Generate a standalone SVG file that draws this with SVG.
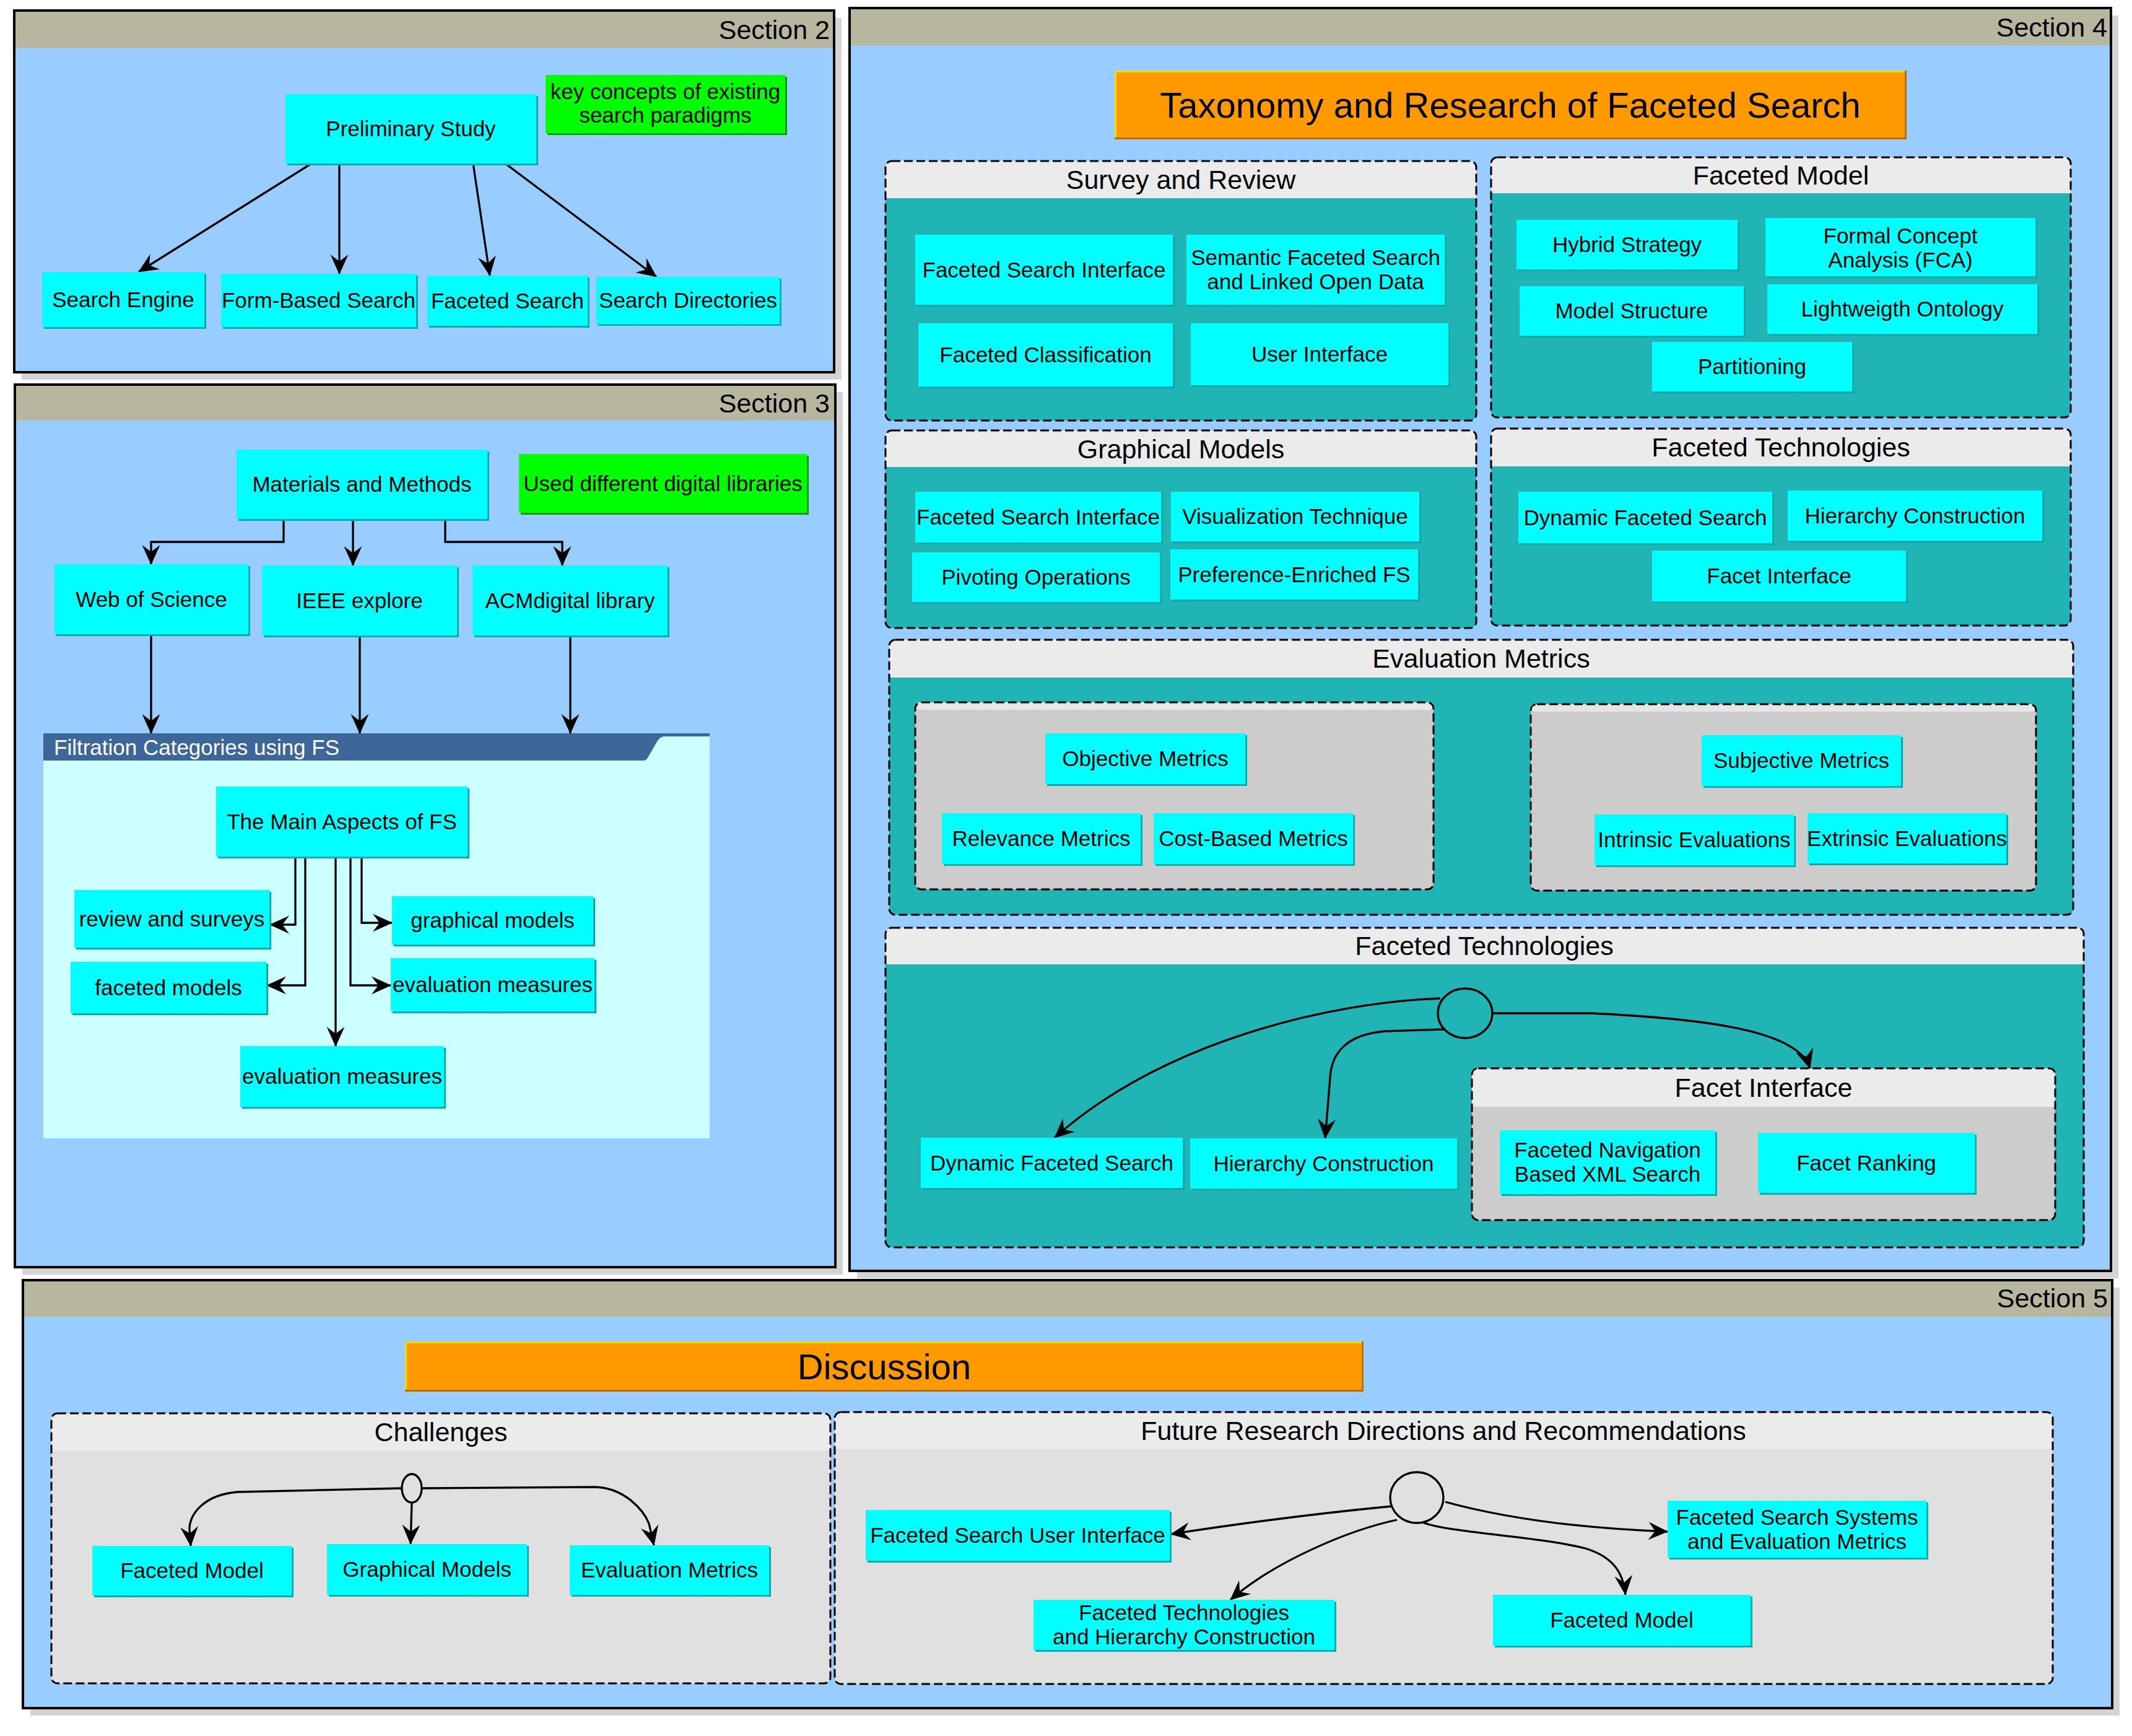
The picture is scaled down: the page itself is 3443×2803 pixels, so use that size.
<svg xmlns="http://www.w3.org/2000/svg" width="3443" height="2803" viewBox="0 0 3443 2803">
<defs>
<style>
.bg{fill:#FFFFFF}
.shd{fill:#D3D3D3}
.sec{fill:#99CCFF;stroke:#000;stroke-width:4}
.sech{fill:#B7B79F}
.st{font-family:"Liberation Sans",Arial,sans-serif;font-size:43px;text-anchor:end;fill:#000}
.gt{font-family:"Liberation Sans",Arial,sans-serif;font-size:43px;text-anchor:middle;fill:#000}
.t{font-family:"Liberation Sans",Arial,sans-serif;font-size:35px;text-anchor:middle;fill:#000}
.big{font-family:"Liberation Sans",Arial,sans-serif;font-size:58px;text-anchor:middle;fill:#000}
.ft{font-family:"Liberation Sans",Arial,sans-serif;font-size:35px;fill:#FFFFFF}
.nf{fill:#00FFFF}
.ns{fill:#00AAAA}
.gf{fill:#00FF00}
.gs{fill:#009900}
.teal{fill:#20B4B4}
.gh{fill:#EBEBEB}
.lg{fill:#CCCCCC}
.lg2{fill:#E0E0E0}
.dash{fill:none;stroke:#000;stroke-width:3;stroke-dasharray:14 6}
.c{fill:none;stroke:#000;stroke-width:3.3;marker-end:url(#ah)}
.el{stroke:#000;stroke-width:3.3}
</style>
<marker id="ah" markerUnits="userSpaceOnUse" markerWidth="34" markerHeight="30" viewBox="0 0 34 30" refX="31" refY="15" orient="auto">
<path d="M0,0.5 L32,15 L0,29.5 L11,15 Z" fill="#000"/>
</marker>
</defs>
<rect class="bg" x="0" y="0" width="3443" height="2803"/>

<!-- Sections -->
<g id="section2">
<rect class="shd" x="35" y="29" width="1324" height="584"/>
<rect class="sec" x="23" y="17" width="1324" height="584"/>
<rect class="sech" x="25" y="19" width="1320" height="58"/>
<text class="st" x="1340" y="63">Section 2</text>
</g>
<g id="section3">
<rect class="shd" x="36" y="633" width="1325" height="1425"/>
<rect class="sec" x="24" y="621" width="1325" height="1425"/>
<rect class="sech" x="26" y="623" width="1321" height="56"/>
<text class="st" x="1340" y="666">Section 3</text>
</g>
<g id="section4">
<rect class="shd" x="1384" y="25" width="2037" height="2039"/>
<rect class="sec" x="1372" y="13" width="2037" height="2039"/>
<rect class="sech" x="1374" y="15" width="2033" height="58"/>
<text class="st" x="3403" y="59">Section 4</text>
</g>
<g id="section5">
<rect class="shd" x="49" y="2079" width="3374" height="691"/>
<rect class="sec" x="37" y="2067" width="3374" height="691"/>
<rect class="sech" x="39" y="2069" width="3370" height="57"/>
<text class="st" x="3404" y="2111">Section 5</text>
</g>

<!-- Containers -->
<g id="filtration">
<rect x="70" y="1184" width="1076" height="654" fill="#CCFFFF"/>
<path d="M70,1184 H1146 V1189 H1074 C1066,1189 1063,1194 1059,1201 L1048,1220 C1045,1226 1043,1228 1038,1228 H70 Z" fill="#3D6699"/>
<text class="ft" x="87" y="1219">Filtration Categories using FS</text>
</g>

<g id="grp-survey">
<rect x="1430" y="260" width="954" height="419" rx="10" class="teal"/>
<rect x="1430" y="260" width="954" height="60" rx="10" class="gh"/>
<rect x="1430" y="308" width="954" height="12" class="gh"/>
<rect x="1430" y="260" width="954" height="419" rx="10" class="dash"/>
<text class="gt" x="1907" y="305">Survey and Review</text>
</g>
<g id="grp-facetedmodel">
<rect x="2408" y="254" width="936" height="420" rx="10" class="teal"/>
<rect x="2408" y="254" width="936" height="58" rx="10" class="gh"/>
<rect x="2408" y="300" width="936" height="12" class="gh"/>
<rect x="2408" y="254" width="936" height="420" rx="10" class="dash"/>
<text class="gt" x="2876" y="298">Faceted Model</text>
</g>
<g id="grp-graphical">
<rect x="1430" y="695" width="954" height="319" rx="10" class="teal"/>
<rect x="1430" y="695" width="954" height="59" rx="10" class="gh"/>
<rect x="1430" y="742" width="954" height="12" class="gh"/>
<rect x="1430" y="695" width="954" height="319" rx="10" class="dash"/>
<text class="gt" x="1907" y="740">Graphical Models</text>
</g>
<g id="grp-factech1">
<rect x="2408" y="692" width="936" height="318" rx="10" class="teal"/>
<rect x="2408" y="692" width="936" height="61" rx="10" class="gh"/>
<rect x="2408" y="741" width="936" height="12" class="gh"/>
<rect x="2408" y="692" width="936" height="318" rx="10" class="dash"/>
<text class="gt" x="2876" y="737">Faceted Technologies</text>
</g>
<g id="grp-eval">
<rect x="1436" y="1033" width="1912" height="444" rx="10" class="teal"/>
<rect x="1436" y="1033" width="1912" height="61" rx="10" class="gh"/>
<rect x="1436" y="1082" width="1912" height="12" class="gh"/>
<rect x="1436" y="1033" width="1912" height="444" rx="10" class="dash"/>
<text class="gt" x="2392" y="1078">Evaluation Metrics</text>
</g>
<g id="grp-eval-left">
<rect x="1478" y="1134" width="837" height="302" rx="10" class="lg"/>
<rect x="1478" y="1134" width="837" height="12" rx="6" fill="#E6E6E6"/>
<rect x="1478" y="1134" width="837" height="302" rx="10" class="dash"/>
</g>
<g id="grp-eval-right">
<rect x="2472" y="1137" width="816" height="301" rx="10" class="lg"/>
<rect x="2472" y="1137" width="816" height="12" rx="6" fill="#E6E6E6"/>
<rect x="2472" y="1137" width="816" height="301" rx="10" class="dash"/>
</g>
<g id="grp-factech2">
<rect x="1430" y="1498" width="1935" height="516" rx="10" class="teal"/>
<rect x="1430" y="1498" width="1935" height="59" rx="10" class="gh"/>
<rect x="1430" y="1545" width="1935" height="12" class="gh"/>
<rect x="1430" y="1498" width="1935" height="516" rx="10" class="dash"/>
<text class="gt" x="2397" y="1542">Faceted Technologies</text>
</g>
<g id="grp-facetinterface">
<rect x="2377" y="1725" width="942" height="245" rx="10" class="lg"/>
<rect x="2377" y="1725" width="942" height="62" rx="10" class="gh"/>
<rect x="2377" y="1775" width="942" height="12" class="gh"/>
<rect x="2377" y="1725" width="942" height="245" rx="10" class="dash"/>
<text class="gt" x="2848" y="1771">Facet Interface</text>
</g>
<g id="grp-challenges">
<rect x="83" y="2282" width="1258" height="436" rx="10" class="lg2"/>
<rect x="83" y="2282" width="1258" height="60" rx="10" class="gh"/>
<rect x="83" y="2330" width="1258" height="12" class="gh"/>
<rect x="83" y="2282" width="1258" height="436" rx="10" class="dash"/>
<text class="gt" x="712" y="2327">Challenges</text>
</g>
<g id="grp-future">
<rect x="1348" y="2280" width="1967" height="439" rx="10" class="lg2"/>
<rect x="1348" y="2280" width="1967" height="59" rx="10" class="gh"/>
<rect x="1348" y="2327" width="1967" height="12" class="gh"/>
<rect x="1348" y="2280" width="1967" height="439" rx="10" class="dash"/>
<text class="gt" x="2331" y="2325">Future Research Directions and Recommendations</text>
</g>

<!-- Connectors -->
<g id="connectors">
<path class="c" d="M503,264 L224,439"/>
<path class="c" d="M548,264 L548,442"/>
<path class="c" d="M764,264 L791,445"/>
<path class="c" d="M816,264 L1060,447"/>

<path class="c" d="M458,838 V875 H244 V911"/>
<path class="c" d="M570,838 V913"/>
<path class="c" d="M719,838 V875 H908 V913"/>
<path class="c" d="M244,1024 V1184"/>
<path class="c" d="M581,1026 V1184"/>
<path class="c" d="M921,1026 V1184"/>
<path class="c" d="M477,1383 V1493 H436"/>
<path class="c" d="M493,1383 V1591 H431"/>
<path class="c" d="M542,1383 V1689"/>
<path class="c" d="M566,1383 V1591 H631"/>
<path class="c" d="M584,1383 V1490 H633"/>

<path class="c" d="M2326,1612 C2150,1618 1880,1680 1703,1837"/>
<path class="c" d="M2332,1662 L2237,1665 C2175,1670 2150,1700 2148,1740 L2140,1838"/>
<path class="c" d="M2410,1636 L2570,1636 C2760,1645 2905,1665 2923,1725"/>

<path class="c" d="M649,2403 L384,2409 C330,2413 305,2445 306,2470 L308,2496"/>
<path class="c" d="M665,2426 L663,2493"/>
<path class="c" d="M682,2403 L960,2401 C1010,2402 1040,2440 1048,2460 L1056,2495"/>

<path class="c" d="M2248,2432 Q2080,2448 1891,2477"/>
<path class="c" d="M2256,2454 C2180,2470 2060,2520 1987,2583"/>
<path class="c" d="M2297,2458 C2340,2475 2480,2480 2560,2500 C2610,2515 2622,2545 2625,2575"/>
<path class="c" d="M2334,2425 Q2480,2465 2693,2473"/>
</g>

<!-- Junction ellipses -->
<g id="junction-ft"><ellipse class="el" cx="2366" cy="1636" rx="44" ry="40" fill="#20B4B4"/></g>
<g id="junction-ch"><ellipse class="el" cx="665" cy="2403" rx="16" ry="23" fill="#E0E0E0"/></g>
<g id="junction-fr"><ellipse class="el" cx="2288" cy="2418" rx="43" ry="41" fill="#E0E0E0"/></g>

<!-- Section 2 nodes -->
<g id="n-prelim"><rect class="ns" x="464" y="155" width="405" height="112"/><rect class="nf" x="461" y="152" width="405" height="112"/><text class="t" x="663.5" y="220">Preliminary Study</text></g>
<g id="note-key"><rect class="gs" x="884" y="124" width="387" height="94"/><rect class="gf" x="881" y="121" width="387" height="94"/><text class="t" x="1074.5" y="160">key concepts of existing</text><text class="t" x="1074.5" y="198">search paradigms</text></g>
<g id="n-se"><rect class="ns" x="71" y="442" width="262" height="89"/><rect class="nf" x="68" y="439" width="262" height="89"/><text class="t" x="199" y="495.5">Search Engine</text></g>
<g id="n-fbs"><rect class="ns" x="360" y="445" width="315" height="86"/><rect class="nf" x="357" y="442" width="315" height="86"/><text class="t" x="514.5" y="497">Form-Based Search</text></g>
<g id="n-fs"><rect class="ns" x="693" y="448" width="259" height="81"/><rect class="nf" x="690" y="445" width="259" height="81"/><text class="t" x="819.5" y="497.5">Faceted Search</text></g>
<g id="n-sd"><rect class="ns" x="966" y="450" width="296" height="76"/><rect class="nf" x="963" y="447" width="296" height="76"/><text class="t" x="1111" y="497">Search Directories</text></g>

<!-- Section 3 nodes -->
<g id="n-mm"><rect class="ns" x="385" y="729" width="405" height="112"/><rect class="nf" x="382" y="726" width="405" height="112"/><text class="t" x="584.5" y="794">Materials and Methods</text></g>
<g id="note-lib"><rect class="gs" x="841" y="736" width="465" height="95"/><rect class="gf" x="838" y="733" width="465" height="95"/><text class="t" x="1070.5" y="792.5">Used different digital libraries</text></g>
<g id="n-wos"><rect class="ns" x="91" y="914" width="313" height="113"/><rect class="nf" x="88" y="911" width="313" height="113"/><text class="t" x="244.5" y="979.5">Web of Science</text></g>
<g id="n-ieee"><rect class="ns" x="426" y="916" width="315" height="113"/><rect class="nf" x="423" y="913" width="315" height="113"/><text class="t" x="580.5" y="981.5">IEEE explore</text></g>
<g id="n-acm"><rect class="ns" x="766" y="916" width="315" height="113"/><rect class="nf" x="763" y="913" width="315" height="113"/><text class="t" x="920.5" y="981.5">ACMdigital library</text></g>
<g id="n-main"><rect class="ns" x="352" y="1273" width="406" height="113"/><rect class="nf" x="349" y="1270" width="406" height="113"/><text class="t" x="552" y="1338.5">The Main Aspects of FS</text></g>
<g id="n-rev"><rect class="ns" x="123" y="1440" width="315" height="93"/><rect class="nf" x="120" y="1437" width="315" height="93"/><text class="t" x="277.5" y="1495.5">review and surveys</text></g>
<g id="n-fmod"><rect class="ns" x="117" y="1556" width="316" height="83"/><rect class="nf" x="114" y="1553" width="316" height="83"/><text class="t" x="272" y="1606.5">faceted models</text></g>
<g id="n-gmod"><rect class="ns" x="636" y="1450" width="325" height="78"/><rect class="nf" x="633" y="1447" width="325" height="78"/><text class="t" x="795.5" y="1498">graphical models</text></g>
<g id="n-em1"><rect class="ns" x="634" y="1550" width="329" height="86"/><rect class="nf" x="631" y="1547" width="329" height="86"/><text class="t" x="795.5" y="1602">evaluation measures</text></g>
<g id="n-em2"><rect class="ns" x="391" y="1692" width="329" height="98"/><rect class="nf" x="388" y="1689" width="329" height="98"/><text class="t" x="552.5" y="1750">evaluation measures</text></g>

<!-- Section 4 nodes -->
<g id="n-taxonomy"><rect x="1800" y="114" width="1279" height="111" fill="#B06F00"/><rect x="1800" y="114" width="1276" height="108" fill="#FFD700"/><rect x="1803" y="117" width="1273" height="105" fill="#FF9900"/><text class="big" x="2439" y="190">Taxonomy and Research of Faceted Search</text></g>
<g id="n-fsi1"><rect class="ns" x="1481" y="382" width="416" height="113"/><rect class="nf" x="1478" y="379" width="416" height="113"/><text class="t" x="1686" y="447.5">Faceted Search Interface</text></g>
<g id="n-sem"><rect class="ns" x="1919" y="382" width="417" height="113"/><rect class="nf" x="1916" y="379" width="417" height="113"/><text class="t" x="2124.5" y="428">Semantic Faceted Search</text><text class="t" x="2124.5" y="467">and Linked Open Data</text></g>
<g id="n-fc"><rect class="ns" x="1486" y="525" width="411" height="102"/><rect class="nf" x="1483" y="522" width="411" height="102"/><text class="t" x="1688.5" y="585">Faceted Classification</text></g>
<g id="n-ui"><rect class="ns" x="1926" y="525" width="416" height="100"/><rect class="nf" x="1923" y="522" width="416" height="100"/><text class="t" x="2131" y="584">User Interface</text></g>
<g id="n-hs"><rect class="ns" x="2452" y="358" width="357" height="80"/><rect class="nf" x="2449" y="355" width="357" height="80"/><text class="t" x="2627.5" y="407">Hybrid Strategy</text></g>
<g id="n-fca"><rect class="ns" x="2854" y="355" width="436" height="94"/><rect class="nf" x="2851" y="352" width="436" height="94"/><text class="t" x="3069" y="393">Formal Concept</text><text class="t" x="3069" y="432">Analysis (FCA)</text></g>
<g id="n-ms"><rect class="ns" x="2457" y="465" width="362" height="80"/><rect class="nf" x="2454" y="462" width="362" height="80"/><text class="t" x="2635" y="514">Model Structure</text></g>
<g id="n-lo"><rect class="ns" x="2857" y="462" width="436" height="80"/><rect class="nf" x="2854" y="459" width="436" height="80"/><text class="t" x="3072" y="511">Lightweigth Ontology</text></g>
<g id="n-pa"><rect class="ns" x="2671" y="555" width="323" height="80"/><rect class="nf" x="2668" y="552" width="323" height="80"/><text class="t" x="2829.5" y="604">Partitioning</text></g>
<g id="n-fsi2"><rect class="ns" x="1481" y="797" width="397" height="82"/><rect class="nf" x="1478" y="794" width="397" height="82"/><text class="t" x="1676.5" y="847">Faceted Search Interface</text></g>
<g id="n-vt"><rect class="ns" x="1894" y="797" width="401" height="80"/><rect class="nf" x="1891" y="794" width="401" height="80"/><text class="t" x="2091.5" y="846">Visualization Technique</text></g>
<g id="n-po"><rect class="ns" x="1476" y="895" width="400" height="80"/><rect class="nf" x="1473" y="892" width="400" height="80"/><text class="t" x="1673" y="944">Pivoting Operations</text></g>
<g id="n-pe"><rect class="ns" x="1893" y="890" width="400" height="81"/><rect class="nf" x="1890" y="887" width="400" height="81"/><text class="t" x="2090" y="939.5">Preference-Enriched FS</text></g>
<g id="n-dfs1"><rect class="ns" x="2455" y="797" width="410" height="83"/><rect class="nf" x="2452" y="794" width="410" height="83"/><text class="t" x="2657" y="847.5">Dynamic Faceted Search</text></g>
<g id="n-hc1"><rect class="ns" x="2890" y="795" width="411" height="81"/><rect class="nf" x="2887" y="792" width="411" height="81"/><text class="t" x="3092.5" y="844.5">Hierarchy Construction</text></g>
<g id="n-fi"><rect class="ns" x="2671" y="892" width="410" height="82"/><rect class="nf" x="2668" y="889" width="410" height="82"/><text class="t" x="2873" y="942">Facet Interface</text></g>
<g id="n-om"><rect class="ns" x="1691" y="1187" width="323" height="82"/><rect class="nf" x="1688" y="1184" width="323" height="82"/><text class="t" x="1849.5" y="1237">Objective Metrics</text></g>
<g id="n-rm"><rect class="ns" x="1524" y="1316" width="321" height="82"/><rect class="nf" x="1521" y="1313" width="321" height="82"/><text class="t" x="1681.5" y="1366">Relevance Metrics</text></g>
<g id="n-cbm"><rect class="ns" x="1866" y="1316" width="322" height="82"/><rect class="nf" x="1863" y="1313" width="322" height="82"/><text class="t" x="2024" y="1366">Cost-Based Metrics</text></g>
<g id="n-sm"><rect class="ns" x="2751" y="1190" width="322" height="82"/><rect class="nf" x="2748" y="1187" width="322" height="82"/><text class="t" x="2909" y="1240">Subjective Metrics</text></g>
<g id="n-ie"><rect class="ns" x="2578" y="1318" width="322" height="82"/><rect class="nf" x="2575" y="1315" width="322" height="82"/><text class="t" x="2736" y="1368">Intrinsic Evaluations</text></g>
<g id="n-ee"><rect class="ns" x="2922" y="1316" width="321" height="81"/><rect class="nf" x="2919" y="1313" width="321" height="81"/><text class="t" x="3079.5" y="1365.5">Extrinsic Evaluations</text></g>
<g id="n-dfs2"><rect class="ns" x="1490" y="1840" width="423" height="81"/><rect class="nf" x="1487" y="1837" width="423" height="81"/><text class="t" x="1698.5" y="1889.5">Dynamic Faceted Search</text></g>
<g id="n-hc2"><rect class="ns" x="1925" y="1841" width="431" height="81"/><rect class="nf" x="1922" y="1838" width="431" height="81"/><text class="t" x="2137.5" y="1890.5">Hierarchy Construction</text></g>
<g id="n-fnx"><rect class="ns" x="2425" y="1828" width="348" height="103"/><rect class="nf" x="2422" y="1825" width="348" height="103"/><text class="t" x="2596" y="1869">Faceted Navigation</text><text class="t" x="2596" y="1908">Based XML Search</text></g>
<g id="n-fr"><rect class="ns" x="2842" y="1832" width="350" height="97"/><rect class="nf" x="2839" y="1829" width="350" height="97"/><text class="t" x="3014" y="1889.5">Facet Ranking</text></g>

<!-- Section 5 nodes -->
<g id="n-discussion"><rect x="654" y="2166" width="1548" height="81" fill="#B06F00"/><rect x="654" y="2166" width="1545" height="78" fill="#FFD700"/><rect x="657" y="2169" width="1542" height="75" fill="#FF9900"/><text class="big" x="1428" y="2227">Discussion</text></g>
<g id="n-fm5"><rect class="ns" x="152" y="2499" width="322" height="80"/><rect class="nf" x="149" y="2496" width="322" height="80"/><text class="t" x="310" y="2548">Faceted Model</text></g>
<g id="n-gm5"><rect class="ns" x="531" y="2496" width="323" height="82"/><rect class="nf" x="528" y="2493" width="323" height="82"/><text class="t" x="689.5" y="2546">Graphical Models</text></g>
<g id="n-em5"><rect class="ns" x="923" y="2498" width="322" height="80"/><rect class="nf" x="920" y="2495" width="322" height="80"/><text class="t" x="1081" y="2547">Evaluation Metrics</text></g>
<g id="n-fsui"><rect class="ns" x="1401" y="2441" width="491" height="82"/><rect class="nf" x="1398" y="2438" width="491" height="82"/><text class="t" x="1643.5" y="2491">Faceted Search User Interface</text></g>
<g id="n-fss"><rect class="ns" x="2696" y="2426" width="418" height="92"/><rect class="nf" x="2693" y="2423" width="418" height="92"/><text class="t" x="2902" y="2461.5">Faceted Search Systems</text><text class="t" x="2902" y="2500.5">and Evaluation Metrics</text></g>
<g id="n-fth"><rect class="ns" x="1672" y="2586" width="486" height="81"/><rect class="nf" x="1669" y="2583" width="486" height="81"/><text class="t" x="1912" y="2616">Faceted Technologies</text><text class="t" x="1912" y="2655">and Hierarchy Construction</text></g>
<g id="n-fm6"><rect class="ns" x="2414" y="2578" width="416" height="82"/><rect class="nf" x="2411" y="2575" width="416" height="82"/><text class="t" x="2619" y="2628">Faceted Model</text></g>
</svg>
